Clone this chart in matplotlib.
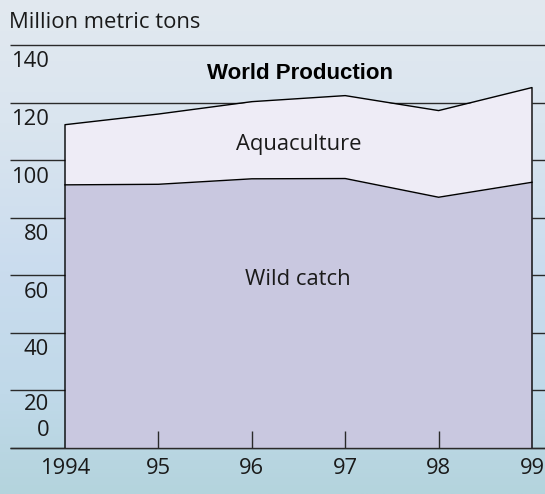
import numpy as np
import matplotlib.pyplot as plt
from matplotlib.colors import LinearSegmentedColormap

# World fish production, million metric tons
years = [1994, 1995, 1996, 1997, 1998, 1999]
wild_catch = [91.4, 91.6, 93.5, 93.6, 87.1, 92.3]
aquaculture = [20.9, 24.4, 26.8, 28.8, 30.1, 32.9]
y_ticks = [0, 20, 40, 60, 80, 100, 120, 140]
x_labels = ["1994", "95", "96", "97", "98", "99"]

total = [w + a for w, a in zip(wild_catch, aquaculture)]

W, H = 545, 494
# pixel layout of the plot
x0_px, x_step = 65.0, 93.4
y0_px, y_scale = 448.0, 2.879

def px_x(px):
    return years[0] + (px - x0_px) / x_step

def px_dy(px):
    return px / y_scale

fig = plt.figure(figsize=(W / 100, H / 100), dpi=100)

# soft blue background
bg = fig.add_axes([0, 0, 1, 1], zorder=0)
bg.axis("off")
cmap = LinearSegmentedColormap.from_list(
    "bg", [(0.0, "#e2e9f0"), (0.25, "#dae5ef"), (0.55, "#cadcee"),
           (0.8, "#c0d9e9"), (1.0, "#b4d4dd")])
grad = np.linspace(0, 1, 256).reshape(-1, 1)
bg.imshow(grad, aspect="auto", cmap=cmap, extent=[0, 1, 0, 1], origin="upper")

ax = fig.add_axes([0, 0, 1, 1], zorder=1)
ax.patch.set_alpha(0)
ax.axis("off")
ax.set_xlim(px_x(0), px_x(W))
ax.set_ylim(-px_dy(H - y0_px), px_dy(y0_px))

font = "Open Sans"
fs = 15.8
line_col = "#2a2a2a"
txt_col = "#1a1a1a"

# grid lines, the area covers them
ax.hlines(y_ticks, px_x(10), px_x(W), color=line_col, lw=1.0, zorder=1)

ax.fill_between(years, 0, wild_catch, color="#c9c8e0", lw=0, zorder=2)
ax.fill_between(years, wild_catch, total, color="#eeecf6", lw=0, zorder=2)
ax.plot(years, wild_catch, color="black", lw=1.0, zorder=3)
ax.plot([years[0]] + years + [years[-1]], [0] + total + [0],
        color="black", lw=1.0, zorder=3)
ax.hlines(0, px_x(10), px_x(W), color=line_col, lw=1.0, zorder=3)

# small year ticks inside the area
ax.vlines(years[1:-1], 0, px_dy(17), color=line_col, lw=1.0, zorder=3)

# y labels sit under their lines, the zero label sits above the base line
for v in y_ticks:
    if v == 0:
        yy = v + px_dy(18)
    elif v == 20:
        yy = v - px_dy(14)
    else:
        yy = v - px_dy(17)
    ax.text(px_x(49), yy, str(v), ha="right", va="center",
            fontsize=fs, family=font, color=txt_col, zorder=4)

for yr, lab in zip(years, x_labels):
    ax.text(yr, -px_dy(20), lab, ha="center", va="center",
            fontsize=fs, family=font, color=txt_col, zorder=4)

ax.text(px_x(9), px_dy(y0_px - 22), "Million metric tons", ha="left",
        va="center", fontsize=fs, family=font, color=txt_col)
ax.text(px_x(300), px_dy(y0_px - 73), "World Production", ha="center",
        va="center", fontsize=16, family="Liberation Sans",
        weight="bold", color="black", zorder=4)
ax.text(px_x(299), px_dy(y0_px - 144), "Aquaculture", ha="center",
        va="center", fontsize=fs, family=font, color=txt_col, zorder=4)
ax.text(px_x(298), px_dy(y0_px - 279), "Wild catch", ha="center",
        va="center", fontsize=fs, family=font, color=txt_col, zorder=4)

fig.savefig("out.png", dpi=100)
